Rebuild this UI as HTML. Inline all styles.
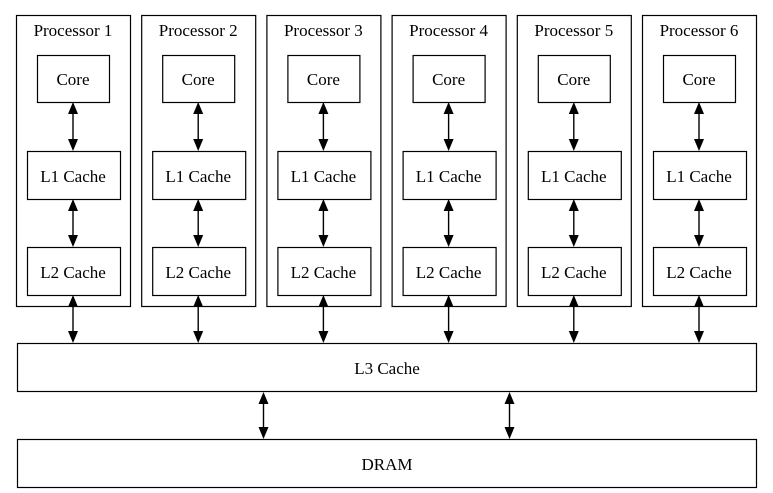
<!DOCTYPE html>
<html><head><meta charset="utf-8"><style>
html,body{margin:0;padding:0;background:#fff;width:773px;height:493px;overflow:hidden}
svg{display:block}
text{font-family:"Liberation Serif",serif;font-size:17px;fill:#000;text-anchor:middle}
rect{fill:#fff;stroke:#000;stroke-width:1.2}
line{stroke:#000;stroke-width:1.4}
polygon{fill:#000}
</style></head><body>
<svg width="773" height="493" viewBox="0 0 773 493">
<defs>
<g id="proc">
<rect x="16.5" y="15.5" width="114" height="291"/>
<rect x="37.5" y="55.5" width="72" height="47"/>
<rect x="27.5" y="151.5" width="93" height="48"/>
<rect x="27.5" y="247.5" width="93" height="48"/>
<line x1="73" y1="112" x2="73" y2="141"/><polygon points="73,102 68,114 78,114"/><polygon points="73,151 68,139 78,139"/>
<line x1="73" y1="209" x2="73" y2="237"/><polygon points="73,199 68,211 78,211"/><polygon points="73,247 68,235 78,235"/>
<line x1="73" y1="305" x2="73" y2="333"/><polygon points="73,295 68,307 78,307"/><polygon points="73,343 68,331 78,331"/>
</g>
</defs>
<g transform="translate(0,0)"><use href="#proc"/><text x="73" y="36">Processor 1</text><text x="73" y="85">Core</text><text x="73" y="182">L1 Cache</text><text x="73" y="278">L2 Cache</text></g>
<g transform="translate(125.2,0)"><use href="#proc"/><text x="73" y="36">Processor 2</text><text x="73" y="85">Core</text><text x="73" y="182">L1 Cache</text><text x="73" y="278">L2 Cache</text></g>
<g transform="translate(250.4,0)"><use href="#proc"/><text x="73" y="36">Processor 3</text><text x="73" y="85">Core</text><text x="73" y="182">L1 Cache</text><text x="73" y="278">L2 Cache</text></g>
<g transform="translate(375.6,0)"><use href="#proc"/><text x="73" y="36">Processor 4</text><text x="73" y="85">Core</text><text x="73" y="182">L1 Cache</text><text x="73" y="278">L2 Cache</text></g>
<g transform="translate(500.8,0)"><use href="#proc"/><text x="73" y="36">Processor 5</text><text x="73" y="85">Core</text><text x="73" y="182">L1 Cache</text><text x="73" y="278">L2 Cache</text></g>
<g transform="translate(626,0)"><use href="#proc"/><text x="73" y="36">Processor 6</text><text x="73" y="85">Core</text><text x="73" y="182">L1 Cache</text><text x="73" y="278">L2 Cache</text></g>
<rect x="17.5" y="343.5" width="739" height="48"/>
<text x="387" y="374">L3 Cache</text>
<rect x="17.5" y="439.5" width="739" height="48"/>
<text x="387" y="470">DRAM</text>
<line x1="263.5" y1="402" x2="263.5" y2="429"/><polygon points="263.5,392 258.5,404 268.5,404"/><polygon points="263.5,439 258.5,427 268.5,427"/>
<line x1="509.5" y1="402" x2="509.5" y2="429"/><polygon points="509.5,392 504.5,404 514.5,404"/><polygon points="509.5,439 504.5,427 514.5,427"/>
</svg>
</body></html>
